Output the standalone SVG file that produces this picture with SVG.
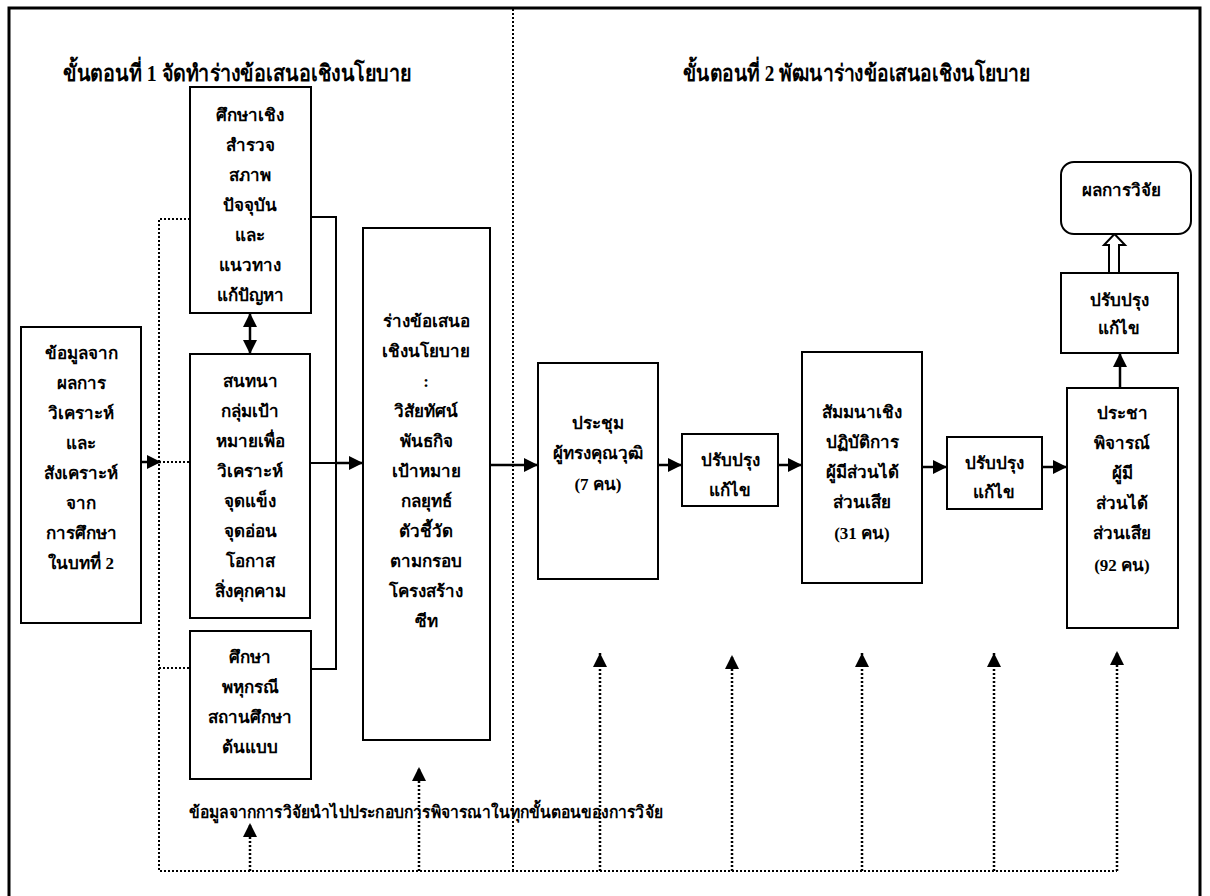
<svg xmlns="http://www.w3.org/2000/svg" width="1210" height="896" viewBox="0 0 1210 896">
<style>
  .box { fill: #fff; stroke: #000; stroke-width: 2; }
  .t { font-family: "Liberation Serif", "DejaVu Serif", serif; font-weight: bold; font-size: 17px; fill: #000; text-anchor: middle; }
  .title { font-family: "Liberation Serif", "DejaVu Serif", serif; font-weight: bold; font-size: 23px; fill: #000; }
  .note { font-family: "Liberation Serif", "DejaVu Serif", serif; font-weight: bold; font-size: 17px; fill: #000; }
  .solid { fill: none; stroke: #000; stroke-width: 2; }
  .arrow { fill: none; stroke: #000; stroke-width: 2.5; marker-end: url(#ah); }
  .dot { fill: none; stroke: #000; stroke-width: 2; stroke-dasharray: 2 2; }
  .dotarrow { fill: none; stroke: #000; stroke-width: 2.5; stroke-dasharray: 2 2; marker-end: url(#ah); }
</style>
<defs>
  <marker id="ah" markerUnits="userSpaceOnUse" markerWidth="16" markerHeight="16" refX="14" refY="7" orient="auto">
    <path d="M0,0 L14,7 L0,14 Z" fill="#000"/>
  </marker>
  <marker id="ahs" markerUnits="userSpaceOnUse" markerWidth="16" markerHeight="16" refX="0" refY="7" orient="auto">
    <path d="M14,0 L0,7 L14,14 Z" fill="#000"/>
  </marker>
</defs>
<rect x="0" y="0" width="1210" height="896" fill="#fff"/>
<rect x="9" y="8" width="1191" height="900" fill="none" stroke="#000" stroke-width="3"/>

<g id="titles">
  <text class="title" x="63" y="81" textLength="348" lengthAdjust="spacingAndGlyphs">ขั้นตอนที่ 1 จัดทำร่างข้อเสนอเชิงนโยบาย</text>
  <text class="title" x="683" y="81" textLength="347" lengthAdjust="spacingAndGlyphs">ขั้นตอนที่ 2 พัฒนาร่างข้อเสนอเชิงนโยบาย</text>
</g>

<g id="connectors">
  <line class="dot" x1="513" y1="9" x2="513" y2="871"/>
  <polyline class="dot" points="190,219 159,219 159,871 1117,871"/>
  <line class="dot" x1="159" y1="462" x2="190" y2="462"/>
  <line class="dot" x1="159" y1="668" x2="190" y2="668"/>
  <line class="arrow" x1="141" y1="462" x2="161" y2="462"/>
  <line x1="250" y1="313" x2="250" y2="354" stroke="#000" stroke-width="2.5" marker-start="url(#ahs)" marker-end="url(#ah)"/>
  <polyline class="solid" points="311,217 336,217 336,669 311,669"/>
  <line class="solid" x1="310" y1="463" x2="336" y2="463"/>
  <line class="arrow" x1="336" y1="463" x2="363" y2="463"/>
  <line class="arrow" x1="490" y1="465" x2="538" y2="465"/>
  <line class="arrow" x1="658" y1="465" x2="682" y2="465"/>
  <line class="arrow" x1="778" y1="465" x2="802" y2="465"/>
  <line class="arrow" x1="922" y1="467" x2="947" y2="467"/>
  <line class="arrow" x1="1042" y1="467" x2="1067" y2="467"/>
  <line class="arrow" x1="1120" y1="388" x2="1120" y2="353"/>
  <polygon points="1109,273 1109,245 1104,245 1114.5,234 1125,245 1119,245 1119,273" fill="#fff" stroke="#000" stroke-width="2"/>
  <line class="dotarrow" x1="250" y1="871" x2="250" y2="823"/>
  <line class="dotarrow" x1="419" y1="871" x2="419" y2="767"/>
  <line class="dotarrow" x1="600" y1="871" x2="600" y2="653"/>
  <line class="dotarrow" x1="732" y1="871" x2="732" y2="655"/>
  <line class="dotarrow" x1="862" y1="871" x2="862" y2="653"/>
  <line class="dotarrow" x1="994" y1="871" x2="994" y2="653"/>
  <line class="dotarrow" x1="1117" y1="871" x2="1117" y2="651"/>
</g>

<g id="note">
  <text class="note" x="189" y="818" textLength="474" lengthAdjust="spacingAndGlyphs">ข้อมูลจากการวิจัยนำไปประกอบการพิจารณาในทุกขั้นตอนของการวิจัย</text>
</g>

<g id="n1">
  <rect class="box" x="21" y="327" width="120" height="296"/>
  <text class="t" x="81" y="359">ข้อมูลจาก<tspan x="81" dy="30">ผลการ</tspan><tspan x="81" dy="30">วิเคราะห์</tspan><tspan x="81" dy="30">และ</tspan><tspan x="81" dy="30">สังเคราะห์</tspan><tspan x="81" dy="30">จาก</tspan><tspan x="81" dy="30">การศึกษา</tspan><tspan x="81" dy="30">ในบทที่ 2</tspan></text>
</g>

<g id="n2">
  <rect class="box" x="190" y="87" width="121" height="226"/>
  <text class="t" x="250" y="121">ศึกษาเชิง<tspan x="250" dy="30">สำรวจ</tspan><tspan x="250" dy="30">สภาพ</tspan><tspan x="250" dy="30">ปัจจุบัน</tspan><tspan x="250" dy="30">และ</tspan><tspan x="250" dy="30">แนวทาง</tspan><tspan x="250" dy="30">แก้ปัญหา</tspan></text>
</g>

<g id="n3">
  <rect class="box" x="190" y="354" width="120" height="264"/>
  <text class="t" x="250" y="387">สนทนา<tspan x="250" dy="30">กลุ่มเป้า</tspan><tspan x="250" dy="30">หมายเพื่อ</tspan><tspan x="250" dy="30">วิเคราะห์</tspan><tspan x="250" dy="30">จุดแข็ง</tspan><tspan x="250" dy="30">จุดอ่อน</tspan><tspan x="250" dy="30">โอกาส</tspan><tspan x="250" dy="30">สิ่งคุกคาม</tspan></text>
</g>

<g id="n4">
  <rect class="box" x="190" y="631" width="121" height="148"/>
  <text class="t" x="250" y="663">ศึกษา<tspan x="250" dy="30">พหุกรณี</tspan><tspan x="250" dy="30">สถานศึกษา</tspan><tspan x="250" dy="30">ต้นแบบ</tspan></text>
</g>

<g id="n5">
  <rect class="box" x="363" y="228" width="127" height="512"/>
  <text class="t" x="426" y="327">ร่างข้อเสนอ<tspan x="426" dy="30">เชิงนโยบาย</tspan><tspan x="426" dy="30">:</tspan><tspan x="426" dy="30">วิสัยทัศน์</tspan><tspan x="426" dy="30">พันธกิจ</tspan><tspan x="426" dy="30">เป้าหมาย</tspan><tspan x="426" dy="30">กลยุทธ์</tspan><tspan x="426" dy="30">ตัวชี้วัด</tspan><tspan x="426" dy="30">ตามกรอบ</tspan><tspan x="426" dy="30">โครงสร้าง</tspan><tspan x="426" dy="30">ซีท</tspan></text>
</g>

<g id="n6">
  <rect class="box" x="538" y="363" width="120" height="216"/>
  <text class="t" x="598" y="429">ประชุม<tspan x="598" dy="30">ผู้ทรงคุณวุฒิ</tspan><tspan x="598" dy="31">(7 คน)</tspan></text>
</g>

<g id="n7">
  <rect class="box" x="682" y="434" width="96" height="72"/>
  <text class="t" x="730" y="466">ปรับปรุง<tspan x="730" dy="30">แก้ไข</tspan></text>
</g>

<g id="n8">
  <rect class="box" x="802" y="352" width="120" height="231"/>
  <text class="t" x="862" y="418">สัมมนาเชิง<tspan x="862" dy="30">ปฏิบัติการ</tspan><tspan x="862" dy="30">ผู้มีส่วนได้</tspan><tspan x="862" dy="30">ส่วนเสีย</tspan><tspan x="862" dy="31">(31 คน)</tspan></text>
</g>

<g id="n9">
  <rect class="box" x="947" y="437" width="95" height="72"/>
  <text class="t" x="994" y="469">ปรับปรุง<tspan x="994" dy="29">แก้ไข</tspan></text>
</g>

<g id="n10">
  <rect class="box" x="1067" y="388" width="111" height="240"/>
  <text class="t" x="1122" y="419">ประชา<tspan x="1122" dy="30">พิจารณ์</tspan><tspan x="1122" dy="30">ผู้มี</tspan><tspan x="1122" dy="30">ส่วนได้</tspan><tspan x="1122" dy="30">ส่วนเสีย</tspan><tspan x="1122" dy="32">(92 คน)</tspan></text>
</g>

<g id="n11">
  <rect class="box" x="1061" y="273" width="117" height="80"/>
  <text class="t" x="1119" y="306">ปรับปรุง<tspan x="1119" dy="28">แก้ไข</tspan></text>
</g>

<g id="n12">
  <rect class="box" x="1061" y="162" width="130" height="72" rx="13" ry="13"/>
  <text class="t" x="1121" y="196">ผลการวิจัย</text>
</g>
</svg>
